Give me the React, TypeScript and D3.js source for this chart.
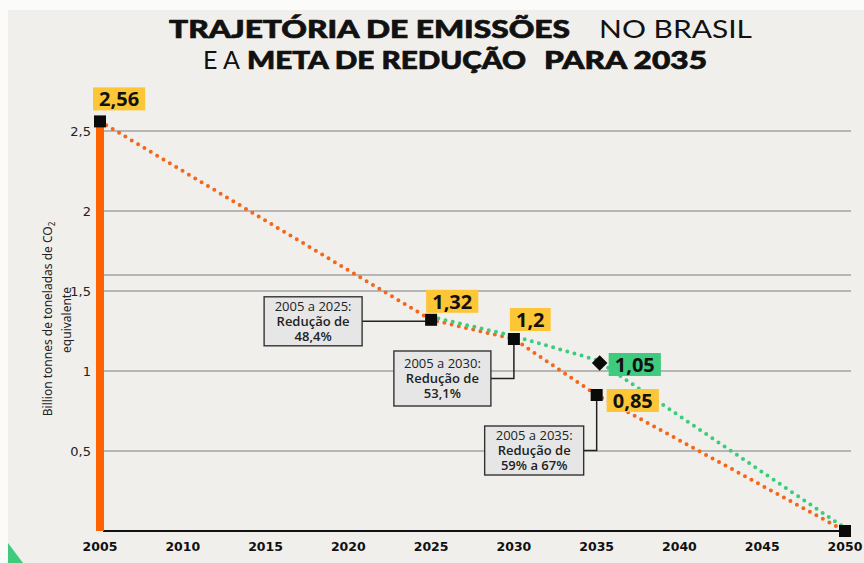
import React from "react";
import * as d3 from "d3";

// ---- data ----
const trajectoryYears = [2005, 2025, 2030, 2035, 2050];
const trajectoryValues = [2.56, 1.32, 1.2, 0.85, 0];
const goalYears = [2025, 2030, 2035, 2050];
const goalValues = [1.32, 1.2, 1.05, 0];
const xTicks = [2005, 2010, 2015, 2020, 2025, 2030, 2035, 2040, 2045, 2050];
const yTicks = [0.5, 1, 1.5, 2, 2.5];
const extraGrid = [1.6];
const annoRanges = ["2005 a 2025:", "2005 a 2030:", "2005 a 2035:"];
const annoReductions = ["48,4%", "53,1%", "59% a 67%"];
const annoYears = [2025, 2030, 2035];
const annoValues = [1.32, 1.2, 0.85];

const W = 864;
const H = 563;
const ORANGE = "#f5661a";
const BAR = "#ff6200";
const GREEN = "#3ecb7e";
const YELLOW = "#fcc636";

const fmt = (v: number) => String(v).replace(".", ",");

export default function App() {
  const x = d3.scaleLinear().domain([2005, 2050]).range([100, 845]);
  const y = d3.scaleLinear().domain([0, 2.5]).range([531, 131]);

  const orangeData = trajectoryYears.map((yr, i) => [yr, trajectoryValues[i]] as [number, number]);
  const greenData = goalYears.map((yr, i) => [yr, goalValues[i]] as [number, number]);
  const line = d3
    .line<[number, number]>()
    .x((d) => x(d[0]))
    .y((d) => y(d[1]));

  // layout for annotation boxes (offsets relative to point)
  const annoLayout = [
    { dx: -167, dy: -23, w: 98, h: 49 },
    { dx: -120, dy: 12, w: 97, h: 55 },
    { dx: -112, dy: 31, w: 99, h: 49 },
  ];

  const valueLabels: { yr: number; v: number; dx: number; dy: number; fill: string }[] = [
    { yr: trajectoryYears[0], v: trajectoryValues[0], dx: -7, dy: -34, fill: YELLOW },
    { yr: trajectoryYears[1], v: trajectoryValues[1], dx: -5, dy: -30, fill: YELLOW },
    { yr: trajectoryYears[2], v: trajectoryValues[2], dx: -4, dy: -31, fill: YELLOW },
    { yr: trajectoryYears[3], v: trajectoryValues[3], dx: 10, dy: -6, fill: YELLOW },
    { yr: goalYears[2], v: goalValues[2], dx: 12, dy: -10, fill: GREEN },
  ];

  const labelWidth = (s: string) => {
    let w = 0;
    for (const c of s) w += c === "," ? 6 : 11.4;
    return w + 12;
  };

  const x0 = 103;
  const x1 = 851;
  const heavy = { fontFamily: "Lato, Inter, Roboto, sans-serif", fontWeight: 900, fontSize: 25, stroke: "#111", strokeWidth: 0.7 } as const;
  const light = { fontFamily: "Lato, Inter, Roboto, sans-serif", fontWeight: 400, fontSize: 25 } as const;

  return (
    <svg
      width={W}
      height={H}
      style={{ position: "absolute", left: 0, top: 0 }}
      xmlns="http://www.w3.org/2000/svg"
    >
      <rect x={0} y={0} width={W} height={H} fill="#fbfbfa" />
      <rect x={8} y={10} width={W - 8} height={H - 10} fill="#f0efeb" />

      {/* Title */}
      <g fill="#111">
        <text x={169} y={38} {...heavy} textLength={401} lengthAdjust="spacingAndGlyphs">
          TRAJETÓRIA DE EMISSÕES
        </text>
        <text x={599} y={38} {...light} textLength={153} lengthAdjust="spacingAndGlyphs">
          NO BRASIL
        </text>
        <text x={203} y={69} {...light} textLength={37} lengthAdjust="spacingAndGlyphs">
          E A
        </text>
        <text x={247} y={69} {...heavy} textLength={279} lengthAdjust="spacingAndGlyphs">
          META DE REDUÇÃO
        </text>
        <text x={544} y={69} {...heavy} textLength={163} lengthAdjust="spacingAndGlyphs">
          PARA 2035
        </text>
      </g>

      {/* Gridlines */}
      {[...yTicks, ...extraGrid].map((t) => (
        <line key={"g" + t} x1={x0} x2={x1} y1={y(t)} y2={y(t)} stroke="#a3a3a3" strokeWidth={1.3} />
      ))}

      {/* Y tick labels */}
      {yTicks.map((t) => (
        <text
          key={"yt" + t}
          x={91}
          y={y(t)}
          dy="0.36em"
          textAnchor="end"
          fontFamily="'DejaVu Sans', sans-serif"
          fontSize={13}
          fill="#222"
        >
          {fmt(t)}
        </text>
      ))}

      {/* Y axis title */}
      <text
        transform={`translate(52,${319}) rotate(-90)`}
        textAnchor="middle"
        fontFamily="'Noto Sans', 'Open Sans', sans-serif"
        fontSize={12}
        fill="#222"
      >
        Billion tonnes de toneladas de CO
        <tspan fontSize={8} dy={3}>
          2
        </tspan>
      </text>
      <text
        transform={`translate(71,${320}) rotate(-90)`}
        textAnchor="middle"
        fontFamily="'Noto Sans', 'Open Sans', sans-serif"
        fontSize={12}
        fill="#222"
      >
        equivalente
      </text>

      {/* X axis baseline */}
      <line x1={x0} x2={x1} y1={y(0)} y2={y(0)} stroke="#111" strokeWidth={2} />

      {/* X tick labels */}
      {xTicks.map((t) => (
        <text
          key={"xt" + t}
          x={x(t)}
          y={551}
          textAnchor="middle"
          fontFamily="'DejaVu Sans', sans-serif"
          fontWeight={700}
          fontSize={12.5}
          fill="#111"
        >
          {t}
        </text>
      ))}

      {/* 2005 bar */}
      <rect
        x={x(trajectoryYears[0]) - 4}
        y={y(trajectoryValues[0])}
        width={8}
        height={y(0) - y(trajectoryValues[0])}
        fill={BAR}
      />

      {/* Dotted lines */}
      <path
        d={line(orangeData) || ""}
        fill="none"
        stroke={ORANGE}
        strokeWidth={4}
        strokeLinecap="round"
        strokeDasharray="0 7.4"
      />
      <path
        d={line(greenData) || ""}
        transform="translate(0,-3)"
        fill="none"
        stroke={GREEN}
        strokeWidth={4}
        strokeLinecap="round"
        strokeDasharray="0 7.4"
      />

      {/* Annotations */}
      {annoYears.map((yr, i) => {
        const px = x(yr);
        const py = y(annoValues[i]);
        const L = annoLayout[i];
        const bx = px + L.dx;
        const by = py + L.dy;
        const my = by + L.h / 2;
        return (
          <g key={"an" + i}>
            <path
              d={`M${bx + L.w},${my}H${px}V${py}`}
              fill="none"
              stroke="#222"
              strokeWidth={1.5}
            />
            <rect x={bx} y={by} width={L.w} height={L.h} fill="#e6e6e6" stroke="#333" strokeWidth={1.4} />
            <g
              fontFamily="'Open Sans', 'Noto Sans', sans-serif"
              fontSize={13}
              fill="#222"
              textAnchor="middle"
            >
              <text x={bx + L.w / 2} y={my - 10.5}>
                {annoRanges[i]}
              </text>
              <text x={bx + L.w / 2} y={my + 4.5} fontWeight={600}>
                Redução de
              </text>
              <text x={bx + L.w / 2} y={my + 19.5} fontWeight={600}>
                {annoReductions[i]}
              </text>
            </g>
          </g>
        );
      })}

      {/* Markers */}
      {trajectoryYears.map((yr, i) => (
        <rect
          key={"m" + yr}
          x={x(yr) - 6}
          y={y(trajectoryValues[i]) - 6}
          width={12}
          height={12}
          fill="#0a0a0a"
        />
      ))}
      <rect
        x={x(goalYears[2]) + 3 - 5.5}
        y={y(goalValues[2]) - 5.5}
        width={11}
        height={11}
        fill="#0a0a0a"
        transform={`rotate(45, ${x(goalYears[2]) + 3}, ${y(goalValues[2])})`}
      />

      {/* Value labels */}
      {valueLabels.map((l, i) => {
        const s = fmt(l.v);
        const w = labelWidth(s);
        const bx = x(l.yr) + l.dx;
        const by = y(l.v) + l.dy;
        return (
          <g key={"vl" + i}>
            <rect x={bx} y={by} width={w} height={23} fill={l.fill} />
            <text
              x={bx + w / 2}
              y={by + 19}
              textAnchor="middle"
              fontFamily="'Open Sans', 'Noto Sans', sans-serif"
              fontWeight={700}
              fontSize={20}
              fill="#111"
            >
              {s}
            </text>
          </g>
        );
      })}

      {/* corner decoration */}
      <polygon points="8,543 8,563 23,563" fill={GREEN} />
    </svg>
  );
}
